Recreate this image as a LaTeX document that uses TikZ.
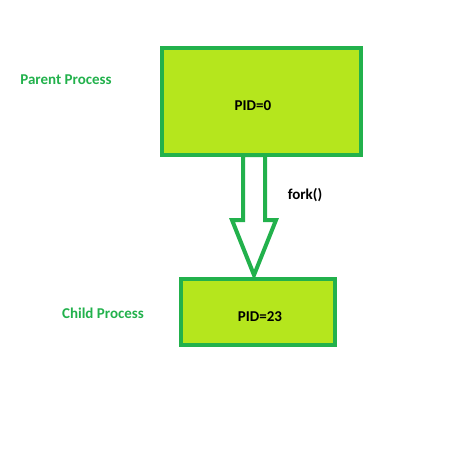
\documentclass[tikz,border=0pt]{standalone}
\usepackage{fontspec}
\setmainfont{Carlito}
\usetikzlibrary{calc}
\definecolor{boxgreen}{RGB}{34,177,76}
\definecolor{limefill}{RGB}{181,230,29}

\begin{document}
\begin{tikzpicture}[x=1pt,y=-1pt]
\tikzset{ procbox/.style={draw=boxgreen, fill=limefill, line width=4pt, inner sep=0pt},
          lbl/.style={font=\fontsize{15}{18}\selectfont\bfseries, inner sep=0pt},
          side/.style={lbl, text=boxgreen}, }

\useasboundingbox (0,0) rectangle (474,456);

\node [procbox, minimum width=199pt, minimum height=107pt] (parent) at (261.5,101.5) {};
\node [procbox, minimum width=154pt, minimum height=66pt] (child) at (258,312) {};

% fork arrow
\coordinate (top) at (254,155);
\coordinate (tip) at (254,275);
\draw [boxgreen, line width=4pt, fill=white, line join=miter]
  ($(top)+(-11,0)$) -- ($(top)+(-11,65)$) -- ($(top)+(-22,65)$) -- (tip)
  -- ($(top)+(22,65)$) -- ($(top)+(11,65)$) -- ($(top)+(11,0)$) -- cycle;

\node [lbl] (pid0) at (253,106) {PID=0};
\node [lbl] (pid23) at (260,317) {PID=23};
\node [lbl] (fork) at (305,195) {fork()};

\node [side] (parentlbl) at (66,80) {Parent Process};
\node [side] (childlbl) at (103,313) {Child Process};

\end{tikzpicture}
\end{document}
